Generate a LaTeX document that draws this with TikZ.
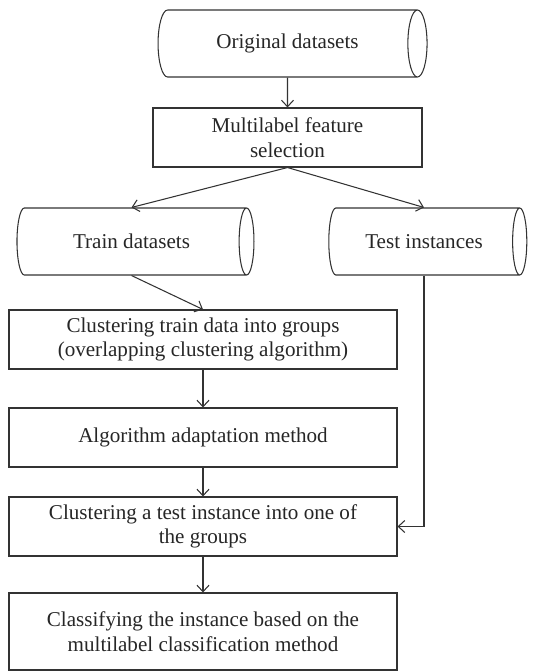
\documentclass[tikz,border=0pt]{standalone}
\usepackage{fontspec}
\setmainfont{Liberation Serif}
\usetikzlibrary{shapes.geometric}
\usetikzlibrary{arrows.meta}

\tikzset{
    flowline/.style={black!80, line width=0.6pt},
    flowarrow/.style={flowline, -{Straight Barb[length=1.3mm,width=2.4mm]}},
    procbox/.style={draw=black!80, line width=0.6pt, rectangle, align=center,
        text=black!85, font=\fontsize{12}{14}\selectfont, inner sep=0pt},
    datastore/.style={draw=black!80, line width=0.6pt, cylinder, shape aspect=1.0,
        align=center, text=black!85, font=\fontsize{12}{14}\selectfont, inner sep=0pt}
}

\begin{document}
\begin{tikzpicture}
    \useasboundingbox (0,0) rectangle (10.7,-13.44);

    % data sources (cylinder: height = axis length, width = diameter)
    \node[datastore, minimum height=5.38cm, minimum width=1.34cm] (orig) at (5.75,-0.87) {Original datasets};
    \node[procbox, minimum width=5.38cm, minimum height=1.18cm] (mfs) at (5.75,-2.75) {Multilabel feature\\selection};
    \node[datastore, minimum height=4.74cm, minimum width=1.34cm] (train) at (2.63,-4.83) {Train datasets};
    \node[datastore, minimum height=3.96cm, minimum width=1.34cm] (test) at (8.48,-4.83) {Test instances};

    % processing steps
    \node[procbox, minimum width=7.76cm, minimum height=1.18cm] (clust) at (4.06,-6.79) {Clustering train data into groups\\(overlapping clustering algorithm)};
    \node[procbox, minimum width=7.76cm, minimum height=1.18cm] (adapt) at (4.06,-8.75) {Algorithm adaptation method};
    \node[procbox, minimum width=7.76cm, minimum height=1.18cm] (ctest) at (4.06,-10.53) {Clustering a test instance into one of\\the groups};
    \node[procbox, minimum width=7.76cm, minimum height=1.54cm] (classify) at (4.06,-12.63) {Classifying the instance based on the\\multilabel classification method};

    \draw[flowarrow] (orig.south) -- (mfs.north);
    \draw[flowarrow] (mfs.south) -- (train.north);
    \draw[flowarrow] (mfs.south) -- (test.north);
    \draw[flowarrow] (train.south) -- (clust.north);
    \draw[flowarrow] (clust.south) -- (adapt.north);
    \draw[flowarrow] (adapt.south) -- (ctest.north);
    \draw[flowarrow] (ctest.south) -- (classify.north);
    \draw[flowarrow] (test.south) |- (ctest.east);
\end{tikzpicture}
\end{document}
